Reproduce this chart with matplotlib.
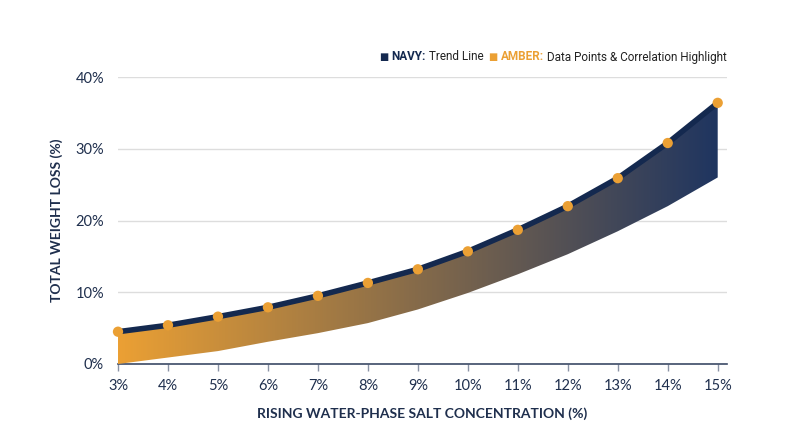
import matplotlib.pyplot as plt
import numpy as np
from matplotlib.colors import LinearSegmentedColormap

# salt concentration (%) vs total weight loss (%)
salt = [3, 4, 5, 6, 7, 8, 9, 10, 11, 12, 13, 14, 15]
weight_loss = [4.5, 5.4, 6.6, 7.9, 9.5, 11.3, 13.2, 15.7, 18.7, 22.0, 25.9, 30.8, 36.4]
band_low = [0.0, 0.9, 1.8, 3.1, 4.3, 5.7, 7.6, 9.9, 12.5, 15.3, 18.5, 22.0, 26.0]
x_labels = [f"{v}%" for v in salt]
y_ticks = [0, 10, 20, 30, 40]

NAVY = "#14294f"
AMBER = "#eba034"
TEXT = "#1f2f4d"

plt.rcParams['font.family'] = ['Lato', 'DejaVu Sans']

fig = plt.figure(figsize=(8, 4.47), dpi=100)
ax = fig.add_axes([0.1475, 0.1857, 0.7615, 0.642])

ax.set_xlim(3, 15.19)
ax.set_ylim(0, 40)

# gradient band: clip a horizontal gradient image to the band polygon
poly = ax.fill_between(salt, band_low, weight_loss, color="none", lw=0)
cmap = LinearSegmentedColormap.from_list("amber_navy", [AMBER, "#1f3560"])
grad = np.linspace(0, 1, 256).reshape(1, -1)
img = ax.imshow(grad, cmap=cmap, aspect="auto", extent=[3, 15, 0, 40],
                origin="lower", zorder=2)
img.set_clip_path(poly.get_paths()[0], transform=ax.transData)

ax.plot(salt, weight_loss, color=NAVY, lw=4, zorder=3, clip_on=False,
        solid_capstyle="butt")
ax.scatter(salt, weight_loss, s=55, color=AMBER, zorder=4, clip_on=False,
           edgecolors="none")

ax.set_yticks(y_ticks)
ax.set_yticklabels([f"{v}%" for v in y_ticks])
ax.set_xticks(salt)
ax.set_xticklabels(x_labels)
ax.grid(axis="y", color="#dddddd", lw=1)
ax.set_axisbelow(True)

for s in ["top", "right", "left"]:
    ax.spines[s].set_visible(False)
ax.spines["bottom"].set_color("#3c4a66")
ax.spines["bottom"].set_linewidth(1.2)
ax.spines["bottom"].set_zorder(1)
ax.tick_params(axis="y", length=0, pad=10, labelsize=10.5, labelcolor=TEXT)
ax.tick_params(axis="x", length=5, width=1, color="#8a93a5", pad=6,
               labelsize=10.5, labelcolor=TEXT)

ax.set_xlabel("RISING WATER-PHASE SALT CONCENTRATION (%)", fontsize=10,
              fontweight="bold", color=TEXT, labelpad=10)
ax.set_ylabel("TOTAL WEIGHT LOSS (%)", fontsize=10, fontweight="bold",
              color=TEXT, labelpad=9)

# legend drawn as a chain of texts, right-aligned at the grid end
legend_parts = [
    ("■ ", NAVY, "normal", 7),
    ("NAVY:", NAVY, "bold", 8.5),
    (" Trend Line  ", "#222222", "normal", 8.5),
    ("■ ", AMBER, "normal", 7),
    ("AMBER:", AMBER, "bold", 8.5),
    (" Data Points & Correlation Highlight", "#222222", "normal", 8.5),
]
renderer = fig.canvas.get_renderer()
texts = []
for s, c, w, fs in legend_parts:
    t = fig.text(0, 1 - 57 / 447, s, color=c, fontsize=fs, fontweight=w,
                 va="center", family=["Roboto", "DejaVu Sans"])
    texts.append(t)
widths = [t.get_window_extent(renderer).width / fig.bbox.width for t in texts]
x = 727 / 800 - sum(widths)
for t, w in zip(texts, widths):
    t.set_x(x)
    x += w

fig.savefig("out.png", dpi=100)
